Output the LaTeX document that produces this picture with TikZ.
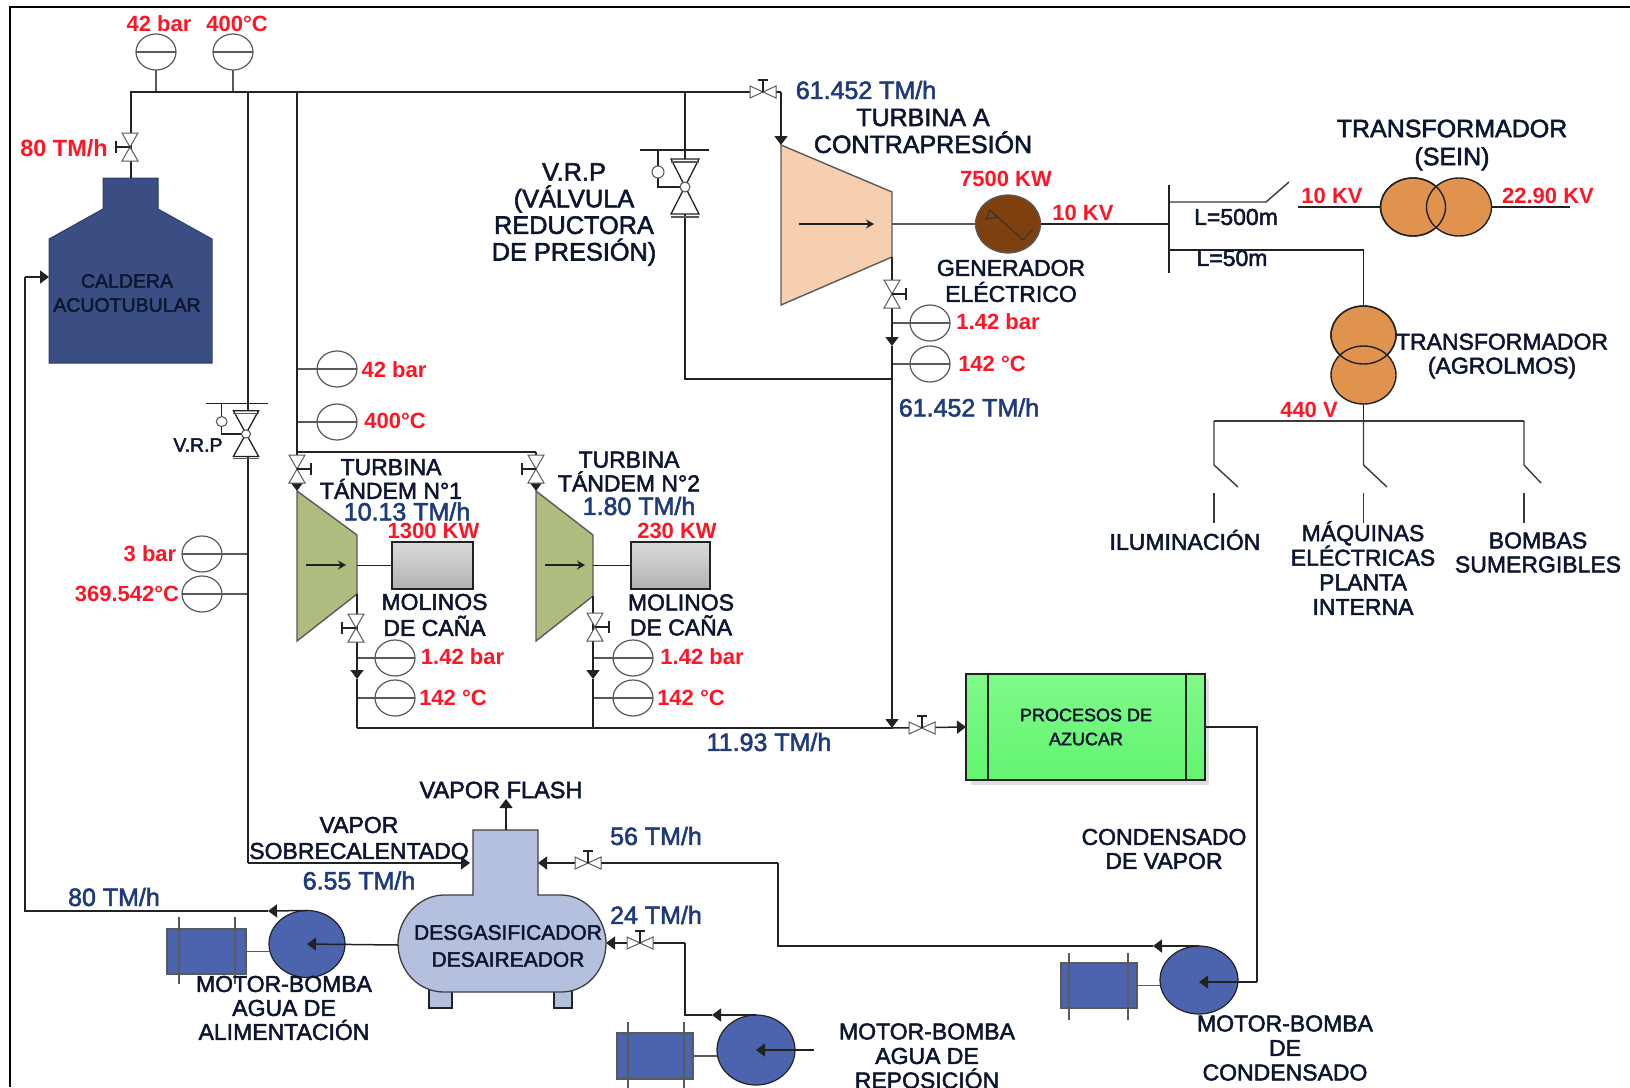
\documentclass[tikz,border=0pt]{standalone}
\usepackage{fontspec}
\setmainfont{Liberation Sans}
\newfontfamily\lab[FakeBold=2.2]{Liberation Sans}
\usetikzlibrary{arrows.meta,shapes.geometric,calc}
\definecolor{inkc}{HTML}{0C1630}
\definecolor{bluec}{HTML}{1F3B7B}
\definecolor{redc}{HTML}{FF1525}
\definecolor{boilerc}{HTML}{3B4E84}
\definecolor{pumpc}{HTML}{4C63AE}
\definecolor{deac}{HTML}{B5C0DF}
\definecolor{turbc}{HTML}{F5CFB0}
\definecolor{tandc}{HTML}{AFBC7F}
\definecolor{genc}{HTML}{7F4010}
\definecolor{trafc}{HTML}{E0934F}
\definecolor{linec}{HTML}{222222}
\definecolor{greyl}{HTML}{5A5A5A}
\definecolor{elecg}{HTML}{3A3A3A}
\definecolor{greentop}{HTML}{7FFA8A}
\definecolor{greenbot}{HTML}{62F46F}
\definecolor{milltop}{HTML}{DADADA}
\definecolor{millbot}{HTML}{B2B2B2}
\tikzset{
  fs/.style 2 args={font=\lab\fontsize{#1}{#2}\selectfont},
  txt/.style={inner sep=0pt,outer sep=0pt,align=center,text=inkc},
  bluet/.style={inner sep=0pt,outer sep=0pt,align=center,text=bluec,font=\lab\fontsize{25}{27}\selectfont},
  redt/.style={inner sep=0pt,outer sep=0pt,align=center,text=redc,font=\bfseries\fontsize{22}{24}\selectfont},
  pipe/.style={draw=linec,line width=1.5pt},
  thinl/.style={draw=greyl,line width=1.2pt},
  elec/.style={draw=linec,line width=1.5pt},
  elecb/.style={draw=elecg,line width=1.4pt},
  flow/.style={pipe,-{Triangle[length=9pt,width=13pt]}},
  gauge/.style={ellipse,draw=greyl,line width=1.2pt,minimum width=40pt,minimum height=36pt,inner sep=0pt,outer sep=0pt},
  pumpn/.style={ellipse,draw=linec,line width=1.2pt,fill=pumpc,inner sep=0pt,outer sep=0pt},
  motorn/.style={rectangle,draw=greyl,line width=1.2pt,fill=pumpc,inner sep=0pt,outer sep=0pt},
  trafon/.style={ellipse,draw=linec,line width=1.4pt,inner sep=0pt,outer sep=0pt,minimum width=65pt,minimum height=58pt},
  millbox/.style={rectangle,draw=linec,line width=1.8pt,top color=milltop,bottom color=millbot,inner sep=0pt,outer sep=0pt,minimum height=47pt},
  pics/vvalve/.style={code={
    \draw[draw=greyl,line width=1pt,fill=white] (-8,-14) -- (8,-14) -- (-8,14) -- (8,14) -- cycle;
    \draw[draw=linec,line width=1.1pt] (0,0) -- (-14,0) (-14,-6) -- (-14,6);
  }},
  pics/hvalve/.style={code={
    \draw[draw=greyl,line width=1pt,fill=white] (-13,-6) -- (13,6) -- (13,-6) -- (-13,6) -- cycle;
    \draw[draw=linec,line width=1.1pt] (0,0) -- (0,-12) (-5,-12) -- (5,-12);
  }},
  pics/vrp/.style={code={
    \draw[draw=linec,line width=1.3pt,fill=white] (-14,-28) -- (14,-28) -- (-14,27) -- (14,27) -- cycle;
    \draw[draw=greyl,line width=1.1pt] (-14,-25) -- (14,-25) (-14,30) -- (14,30);
    \draw[draw=linec,line width=1.1pt] (-45,-37) -- (24,-37) (-27,-37) -- (-27,-21) (-27,-9) -- (-27,0) -- (-5,0);
    \draw[draw=greyl,line width=1.1pt,fill=white] (-27,-15) circle (6);
    \draw[draw=greyl,line width=1.1pt,fill=white] (0,0) circle (5);
  }}
}
\newcommand{\gaugeat}[3]{\node[gauge] (#1) at (#2,#3) {}; \draw[thinl] (#1.west) -- (#1.east);}
\begin{document}
\begin{tikzpicture}[x=1pt,y=-1pt]
\useasboundingbox (0,0) rectangle (1630,1087);
\fill[white] (0,0) rectangle (1630,1087);
% frame
\coordinate (frBL) at (10,1087); \coordinate (frTL) at (10,7); \coordinate (frTR) at (1630,7);
\draw[black,line width=2pt] (frBL) -- (frTL) -- (frTR);

% ---------- coordinates of the steam network
\coordinate (hdrL) at (131,92); \coordinate (hdrV) at (763,92); \coordinate (hdrR) at (781,92);
\coordinate (hA) at (248,92); \coordinate (hB) at (297,92); \coordinate (hC) at (685,92);
\coordinate (blrTop) at (131,178); \coordinate (blrIn) at (49,277);
\coordinate (vrpS) at (246,434); \coordinate (vrpL) at (685,187);
\coordinate (turbIn) at (781,145); \coordinate (turbOut) at (892,257);
\coordinate (turbArr) at (892,346); \coordinate (vrpJoin) at (892,379); \coordinate (vrpCorner) at (685,379);
\coordinate (tBr) at (297,452); \coordinate (tBrR) at (536,452);
\coordinate (t1In) at (297,491); \coordinate (t2In) at (536,491);
\coordinate (t1Out) at (357,594); \coordinate (t2Out) at (593,596);
\coordinate (t1Arr) at (357,679); \coordinate (t2Arr) at (593,679);
\coordinate (col1) at (357,728); \coordinate (col2) at (593,728); \coordinate (colJ) at (892,728);
\coordinate (vProc) at (922,728);
\coordinate (vapCorner) at (248,863); \coordinate (vapEnd) at (470,863);

% ---------- boiler
\draw[draw=boilerc!80!black,fill=boilerc,line width=1pt] (103,178) -- (158,178) -- (158,209) -- (212,239) -- (212,363) -- (49,363) -- (49,239) -- (103,209) -- cycle;
\node[txt,fs={19.5}{24}] (caldera) at (127,293) {CALDERA\\ACUOTUBULAR};

% ---------- turbines
\draw[draw=greyl,fill=turbc,line width=1.4pt] (turbIn) -- (892,192) -- (892,257) -- (781,305) -- cycle;
\draw[draw=greyl,fill=tandc,line width=1.4pt] (t1In) -- (357,535) -- (357,594) -- (297,641) -- cycle;
\draw[draw=greyl,fill=tandc,line width=1.4pt] (t2In) -- (593,535) -- (593,596) -- (536,641) -- cycle;
\coordinate (a1s) at (799,224); \coordinate (a1e) at (874,224);
\coordinate (a2s) at (306,565); \coordinate (a2e) at (346,565);
\coordinate (a3s) at (545,565); \coordinate (a3e) at (585,565);
\draw[pipe,-{Stealth[length=8pt,width=9pt]}] (a1s) -- (a1e);
\draw[pipe,-{Stealth[length=8pt,width=9pt]}] (a2s) -- (a2e);
\draw[pipe,-{Stealth[length=8pt,width=9pt]}] (a3s) -- (a3e);
% mills
\node[millbox,minimum width=81pt] (mill1) at (432.5,565.5) {};
\node[millbox,minimum width=79pt] (mill2) at (670.5,565.5) {};
\coordinate (s1) at (357,565.5); \coordinate (s2) at (593,565.5);
\draw[pipe] (s1) -- (mill1.west);
\draw[pipe] (s2) -- (mill2.west);

% ---------- generator
\node[ellipse,draw=greyl,line width=1.2pt,fill=genc,minimum width=65pt,minimum height=58pt,inner sep=0pt,outer sep=0pt] (gen) at (1008,224) {};
\draw[draw=black!80,line width=1.1pt] (986,219) -- (990,210) -- (998,217) -- cycle;
\draw[draw=black!80,line width=1.1pt] (992,212) -- (1023,240) -- (1033,229);
\coordinate (s3) at (892,224);
\draw[thinl] (s3) -- (gen.west);

% ---------- electric network
\coordinate (busT) at (1169,185); \coordinate (busB) at (1169,273); \coordinate (busM) at (1169,224);
\coordinate (bus1) at (1169,202); \coordinate (sw1a) at (1266,202); \coordinate (sw1b) at (1289,182);
\coordinate (bus2) at (1169,250); \coordinate (bus2c) at (1363.5,250);
\draw[elec] (busT) -- (busB);
\draw[elec] (gen.east) -- (busM);
\draw[elecb] (bus1) -- (sw1a) -- (sw1b);
\node[trafon,fill=trafc] (ts1) at (1413,207) {};
\node[trafon,fill=trafc] (ts2) at (1459,207) {};
\node[trafon] at (1413,207) (ts1o) {};
\coordinate (tsL) at (1298,207); \coordinate (tsR) at (1570,207);
\draw[elec] (tsL) -- (ts1.west);
\draw[elec] (ts2.east) -- (tsR);
\node[trafon,fill=trafc] (ta1) at (1363.5,335) {};
\node[trafon,fill=trafc] (ta2) at (1363.5,375) {};
\node[trafon] at (1363.5,335) (ta1o) {};
\coordinate (lv) at (1363.5,421); \coordinate (lvL) at (1214,421); \coordinate (lvR) at (1524,421);
\draw[elec] (bus2) -- (bus2c) -- (ta1.north);
\draw[elec] (ta2.south) -- (lv);
\coordinate (sL1) at (1214,465); \coordinate (sL2) at (1238,487);
\coordinate (sM1) at (1363.5,465); \coordinate (sM2) at (1387,487);
\coordinate (sR1) at (1524,465); \coordinate (sR2) at (1541,483);
\coordinate (oL1) at (1214,493); \coordinate (oL2) at (1214,523);
\coordinate (oM1) at (1363.5,493); \coordinate (oM2) at (1363.5,523);
\coordinate (oR1) at (1524,493); \coordinate (oR2) at (1524,523);
\draw[elecb] (lv) -- (sM1) -- (sM2);
\draw[elecb] (lvL) -- (lvR);
\draw[elecb] (lvL) -- (sL1) -- (sL2);
\draw[elecb] (lvR) -- (sR1) -- (sR2);
\draw[elecb] (oL1) -- (oL2);
\draw[elecb] (oM1) -- (oM2);
\draw[elecb] (oR1) -- (oR2);

% ---------- process block
\fill[gray!25] (971,679) rectangle (1209,785);
\node[rectangle,draw=linec,line width=1.6pt,top color=greentop,bottom color=greenbot,inner sep=0pt,outer sep=0pt,minimum width=239pt,minimum height=106pt] (proc) at (1085.5,727) {};
\coordinate (p1t) at (988,674); \coordinate (p1b) at (988,780);
\coordinate (p2t) at (1186,674); \coordinate (p2b) at (1186,780);
\draw[pipe] (p1t) -- (p1b);
\draw[pipe] (p2t) -- (p2b);
\node[txt,fs={18}{24}] (proct) at (1086,727) {PROCESOS DE\\AZUCAR};

% ---------- deaerator
\draw[draw=linec,fill=deac,line width=1.2pt] (429,985) rectangle (452,1008);
\draw[draw=linec,fill=deac,line width=1.2pt] (554,985) rectangle (572,1008);
\draw[draw=greyl!70!black,fill=deac,line width=1.3pt] (473,830) -- (538,830) -- (538,895) -- (561,895) .. controls (587,895) and (606,920) .. (606,943) .. controls (606,970) and (587,992) .. (561,992) -- (444,992) .. controls (418,992) and (398,970) .. (398,943) .. controls (398,920) and (418,895) .. (444,895) -- (473,895) -- cycle;
\node[txt,fs={21}{27}] (deat) at (508,946) {DESGASIFICADOR\\DESAIREADOR};
\coordinate (deaW) at (398,945); \coordinate (deaTop) at (506,830); \coordinate (flashTip) at (506,799);
\coordinate (deaNeckR) at (538,863); \coordinate (deaE) at (606,943);

% ---------- pumps and motors
\node[pumpn,minimum width=76pt,minimum height=67pt] (pump1) at (307,944) {};
\node[motorn,minimum width=79pt,minimum height=45pt] (mot1) at (206.5,951.5) {};
\node[pumpn,minimum width=78pt,minimum height=70pt] (pump2) at (756,1050) {};
\node[motorn,minimum width=76pt,minimum height=46pt] (mot2) at (655,1056) {};
\node[pumpn,minimum width=78pt,minimum height=68pt] (pump3) at (1199,980) {};
\node[motorn,minimum width=76pt,minimum height=45pt] (mot3) at (1099,985.5) {};
\draw[thinl] (179,917) -- (179,984) (235,917) -- (235,984);
\draw[thinl] (628,1022) -- (628,1090) (684,1022) -- (684,1090);
\draw[thinl] (1069,953) -- (1069,1020) (1128,953) -- (1128,1020);
\draw[thinl] (mot1.east) -- (mot1.east -| pump1.west);
\draw[thinl] (mot2.east) -- (mot2.east -| pump2.west);
\draw[thinl] (mot3.east) -- (mot3.east -| pump3.west);

% ---------- gauges
\gaugeat{gT1}{156}{52} \gaugeat{gT2}{233}{52}
\gaugeat{gP1}{337}{369} \gaugeat{gP2}{337}{422}
\gaugeat{gS1}{202}{554} \gaugeat{gS2}{202}{594}
\gaugeat{gE1}{930}{323} \gaugeat{gE2}{930}{364}
\gaugeat{gA1}{395}{658} \gaugeat{gA2}{395}{698}
\gaugeat{gB1}{633}{658} \gaugeat{gB2}{633}{698}
\draw[thinl] (gT1.south) -- (gT1 |- hdrL);
\draw[thinl] (gT2.south) -- (gT2 |- hdrL);
\draw[thinl] (hB |- gP1) -- (gP1.west);
\draw[thinl] (hB |- gP2) -- (gP2.west);
\draw[thinl] (hA |- gS1) -- (gS1.east);
\draw[thinl] (hA |- gS2) -- (gS2.east);
\draw[thinl] (turbOut |- gE1) -- (gE1.west);
\draw[thinl] (turbOut |- gE2) -- (gE2.west);
\draw[thinl] (col1 |- gA1) -- (gA1.west);
\draw[thinl] (col1 |- gA2) -- (gA2.west);
\draw[thinl] (col2 |- gB1) -- (gB1.west);
\draw[thinl] (col2 |- gB2) -- (gB2.west);

% ---------- steam pipes
\draw[pipe] (blrTop) -- (hdrL) -- (hdrR);
\draw[flow] (hdrR) -- (turbIn);
\draw[pipe] (hA) -- (vapCorner);
\draw[flow] (vapCorner) -- (vapEnd);
\draw[pipe] (hB) -- (tBr);
\draw[flow] (tBr) -- (t1In);
\draw[pipe] (tBr) -- (tBrR);
\draw[flow] (tBrR) -- (t2In);
\draw[pipe] (hC) -- (vrpL);
\draw[pipe] (vrpL) -- (vrpCorner) -- (vrpJoin);
\draw[flow] (turbOut) -- (turbArr);
\draw[flow] (turbArr) -- (colJ);
\draw[flow] (t1Out) -- (t1Arr);
\draw[pipe] (t1Arr) -- (col1);
\draw[flow] (t2Out) -- (t2Arr);
\draw[pipe] (t2Arr) -- (col2);
\draw[pipe] (col1) -- (colJ);
\draw[flow] (colJ) -- (proc.west);

% ---------- condensate and water
\coordinate (cR) at (1257,727); \coordinate (cB) at (1257,982);
\coordinate (pc) at (1199,982);
\draw[pipe] (proc.east |- cR) -- (cR) -- (cB);
\draw[flow] (cB) -- (pc);
\coordinate (c1) at (1153,946); \coordinate (c2) at (778,946); \coordinate (c3) at (778,863);
\draw[flow] (pump3.north) -- (c1);
\draw[pipe] (c1) -- (c2) -- (c3);
\draw[flow] (c3) -- (deaNeckR);
\coordinate (r1) at (712,1015); \coordinate (r2) at (685,1015); \coordinate (r3) at (685,943);
\draw[flow] (pump2.north) -- (r1);
\draw[pipe] (r1) -- (r2) -- (r3);
\draw[flow] (r3) -- (deaE);
\coordinate (rIn) at (814,1050);
\draw[flow] (rIn) -- (pump2.center);
\coordinate (f1) at (268,911); \coordinate (f2) at (25,911); \coordinate (f3) at (25,277);
\draw[flow] (pump1.north) -- (f1);
\draw[pipe] (f1) -- (f2) -- (f3);
\draw[flow] (f3) -- (blrIn);
\draw[flow] (deaW) -- (pump1.center);
\draw[flow] (deaTop) -- (flashTip);

% ---------- valves
\pic at (130,147) {vvalve};
\pic at (hdrV) {hvalve};
\pic at (vProc) {hvalve};
\coordinate (v56) at (588,863); \pic at (v56) {hvalve};
\coordinate (v24) at (640,943); \pic at (v24) {hvalve};
\coordinate (vT) at (892,294); \pic[xscale=-1] at (vT) {vvalve};
\coordinate (v1a) at (297,469); \pic[xscale=-1] at (v1a) {vvalve};
\coordinate (v2a) at (536,469); \pic at (v2a) {vvalve};
\coordinate (v1b) at (356,628); \pic at (v1b) {vvalve};
\coordinate (v2b) at (595,627); \pic[xscale=-1] at (v2b) {vvalve};
\pic at (vrpL) {vrp};
\pic[xscale=.9,yscale=.83] at (vrpS) {vrp};

% ---------- labels
\node[redt] (l01) at (159,24) {42 bar};
\node[redt] (l02) at (237,24) {400°C};
\node[redt,font=\bfseries\fontsize{23.5}{24}\selectfont] (l03) at (64,148) {80 TM/h};
\node[redt] (l04) at (394,370) {42 bar};
\node[redt] (l05) at (395,421) {400°C};
\node[redt] (l06) at (150,554) {3 bar};
\node[redt] (l07) at (127,594) {369.542°C};
\node[redt] (l08) at (1006,179) {7500 KW};
\node[redt] (l09) at (1083,213) {10 KV};
\node[redt] (l10) at (1332,196) {10 KV};
\node[redt] (l11) at (1548,196) {22.90 KV};
\node[redt] (l12) at (998,322) {1.42 bar};
\node[redt] (l13) at (992,364) {142 °C};
\node[redt] (l14) at (1309,410) {440 V};
\node[redt] (l15) at (433.5,531) {1300 KW};
\node[redt] (l16) at (677,531) {230 KW};
\node[redt] (l17) at (462.5,657) {1.42 bar};
\node[redt] (l18) at (453,698) {142 °C};
\node[redt] (l19) at (702,657) {1.42 bar};
\node[redt] (l20) at (691,698) {142 °C};

\node[bluet] (b1) at (866,90) {61.452 TM/h};
\node[bluet] (b2) at (969,407.5) {61.452 TM/h};
\node[bluet] (b3) at (407,511.5) {10.13 TM/h};
\node[bluet] (b4) at (639,506) {1.80 TM/h};
\node[bluet] (b5) at (769,742) {11.93 TM/h};
\node[bluet] (b6) at (359,880.5) {6.55 TM/h};
\node[bluet] (b7) at (114,897) {80 TM/h};
\node[bluet] (b8) at (656,836) {56 TM/h};
\node[bluet] (b9) at (656,915) {24 TM/h};

\node[txt,fs={25}{27}] (n01) at (923,131) {TURBINA A\\CONTRAPRESIÓN};
\node[txt,fs={25.3}{26.6}] (n02) at (574,214.5) {V.R.P\\(VÁLVULA\\REDUCTORA\\DE PRESIÓN)};
\node[txt,fs={19.5}{22}] (n03) at (198,445) {V.R.P};
\node[txt,fs={25}{28}] (n04) at (1452,145) {TRANSFORMADOR\\(SEIN)};
\node[txt,fs={23}{24}] (n05) at (1502,356) {TRANSFORMADOR\\(AGROLMOS)};
\node[txt,fs={23}{26}] (n06) at (1011,281) {GENERADOR\\ELÉCTRICO};
\node[txt,fs={23}{24}] (n07) at (1236,217) {L=500m};
\node[txt,fs={23}{24}] (n08) at (1232,258) {L=50m};
\node[txt,fs={23}{24}] (n09) at (1185,540) {ILUMINACIÓN};
\node[txt,fs={23}{24.6}] (n10) at (1363,568) {MÁQUINAS\\ELÉCTRICAS\\PLANTA\\INTERNA};
\node[txt,fs={23}{24}] (n11) at (1538,552.5) {BOMBAS\\SUMERGIBLES};
\node[txt,fs={23}{23.7}] (n12) at (391,479) {TURBINA\\TÁNDEM N°1};
\node[txt,fs={23}{23.7}] (n13) at (629,471.5) {TURBINA\\TÁNDEM N°2};
\node[txt,fs={23}{26}] (n14) at (434.5,615) {MOLINOS\\DE CAÑA};
\node[txt,fs={23}{25}] (n15) at (681,615) {MOLINOS\\DE CAÑA};
\node[txt,fs={23}{24}] (n16) at (1164,849) {CONDENSADO\\DE VAPOR};
\node[txt,fs={23}{26}] (n17) at (359,838) {VAPOR\\SOBRECALENTADO};
\node[txt,fs={23.5}{24}] (n18) at (501,790) {VAPOR FLASH};
\node[txt,fs={23}{24}] (n19) at (284,1008) {MOTOR-BOMBA\\AGUA DE\\ALIMENTACIÓN};
\node[txt,fs={23}{24.5}] (n20) at (927,1056) {MOTOR-BOMBA\\AGUA DE\\REPOSICIÓN};
\node[txt,fs={23}{24.5}] (n21) at (1285,1048) {MOTOR-BOMBA\\DE\\CONDENSADO};
\end{tikzpicture}
\end{document}
